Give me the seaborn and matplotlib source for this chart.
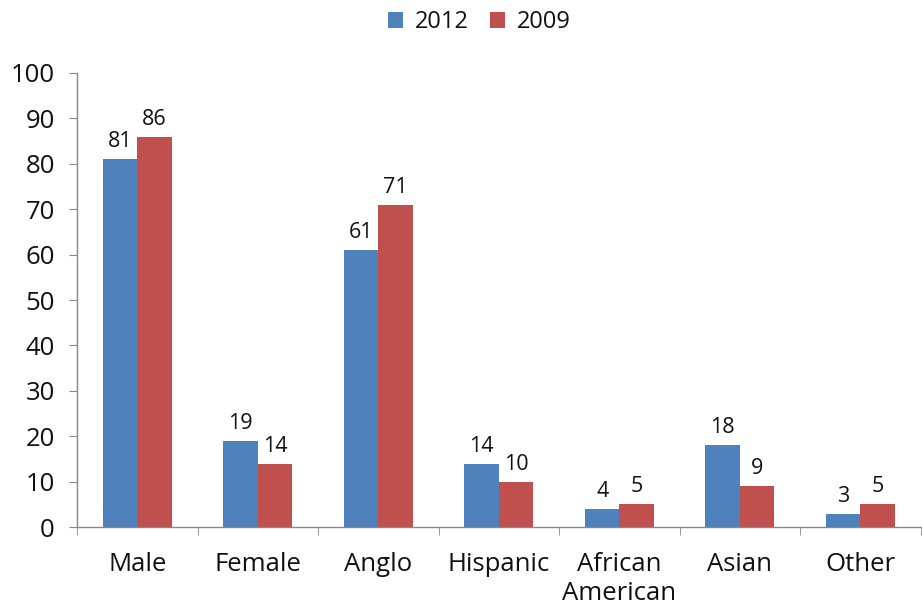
import pandas as pd
import matplotlib
matplotlib.use('Agg')
import matplotlib.pyplot as plt
import seaborn as sns

# Dados do gráfico
categorias = ['Male', 'Female', 'Anglo', 'Hispanic', 'African\nAmerican', 'Asian', 'Other']
valores_2012 = [81, 19, 61, 14, 4, 18, 3]
valores_2009 = [86, 14, 71, 10, 5, 9, 5]
anos = ['2012', '2009']

df = pd.DataFrame({
    'Categoria': categorias * 2,
    'Valor': valores_2012 + valores_2009,
    'Ano': [anos[0]] * len(categorias) + [anos[1]] * len(categorias),
})

sns.set_style('white')
plt.rcParams['font.family'] = ['Open Sans', 'DejaVu Sans']

fig = plt.figure(figsize=(9.22, 6.08), dpi=100)
ax = fig.add_axes([0.0835, 0.133, 0.915, 0.747])

cores = {'2012': '#4F81BD', '2009': '#C0504D'}
sns.barplot(data=df, x='Categoria', y='Valor', hue='Ano', palette=cores,
            width=0.57, saturation=1, linewidth=0, ax=ax, legend=True)

# Rótulos de valor
for cont in ax.containers:
    ax.bar_label(cont, padding=5, fontsize=15.5, color='#111111')

ax.set_ylim(0, 100)
ax.set_yticks(range(0, 101, 10))
ax.set_xlim(-0.5, len(categorias) - 0.5)
ax.set_xlabel('')
ax.set_ylabel('')

# Marcas entre categorias
ax.set_xticks([i - 0.5 for i in range(len(categorias) + 1)], minor=True)
ax.tick_params(axis='x', which='major', length=0, pad=18, labelsize=18.5, labelcolor='#111111')
ax.tick_params(axis='x', which='minor', length=6, color='#888888', direction='out', bottom=True)
ax.tick_params(axis='y', length=6, color='#888888', direction='out', left=True, pad=10,
               labelsize=18.5, labelcolor='#111111')

for lado in ['top', 'right']:
    ax.spines[lado].set_visible(False)
for lado in ['left', 'bottom']:
    ax.spines[lado].set_color('#888888')
    ax.spines[lado].set_linewidth(1)

ax.legend(loc='center', bbox_to_anchor=(0.477, 1.112), ncol=2, frameon=False,
          fontsize=17, handlelength=0.65, handleheight=0.65, handletextpad=0.5,
          columnspacing=0.9, labelcolor='#111111')

fig.savefig('out.png', dpi=100)
